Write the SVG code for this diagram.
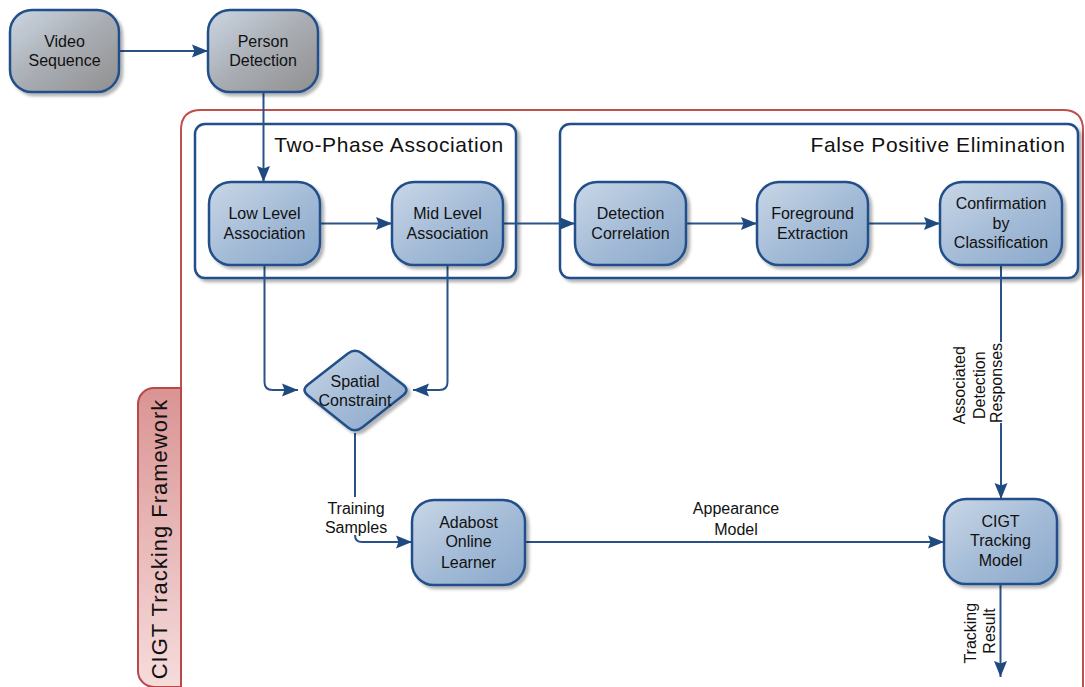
<svg xmlns="http://www.w3.org/2000/svg" width="1085" height="687" viewBox="0 0 1085 687">
  <style>
    .node { stroke: #22508a; stroke-width: 2.5; filter: url(#shadow); }
    .blue { fill: url(#gBlue); }
    .gray { fill: url(#gGray); }
    .box { fill: #ffffff; stroke: #22508a; stroke-width: 2.5; filter: url(#shadow); }
    .txt { font-family: "Liberation Sans", Arial, sans-serif; font-size: 16px; fill: #111; text-anchor: middle; }
    .title { font-family: "Liberation Sans", Arial, sans-serif; font-size: 21px; fill: #111; letter-spacing: 0.6px; }
    .lbl { font-family: "Liberation Sans", Arial, sans-serif; font-size: 16px; fill: #111; text-anchor: middle; }
    .conn { fill: none; stroke: #2a5288; stroke-width: 2; }
    .arrow { marker-end: url(#head); }
  </style>
  <defs>
    <linearGradient id="gBlue" x1="0" y1="0" x2="1" y2="1">
      <stop offset="0" stop-color="#cad7e7"/>
      <stop offset="0.55" stop-color="#a2bad6"/>
      <stop offset="1" stop-color="#8aa8cb"/>
    </linearGradient>
    <linearGradient id="gGray" x1="0" y1="0" x2="1" y2="1">
      <stop offset="0" stop-color="#ccd7e3"/>
      <stop offset="0.5" stop-color="#a9adb3"/>
      <stop offset="1" stop-color="#8f8f8f"/>
    </linearGradient>
    <linearGradient id="gTab" x1="0" y1="0" x2="0" y2="1">
      <stop offset="0" stop-color="#d99493"/>
      <stop offset="1" stop-color="#f6dcdc"/>
    </linearGradient>
    <filter id="shadow" x="-10%" y="-10%" width="125%" height="125%">
      <feDropShadow dx="3" dy="3" stdDeviation="1.6" flood-color="#000" flood-opacity="0.3"/>
    </filter>
    <marker id="head" markerUnits="userSpaceOnUse" markerWidth="17" markerHeight="14" refX="16" refY="6.5" orient="auto" overflow="visible">
      <path d="M0,0 L16,6.5 L0,13 L2.5,6.5 Z" fill="#1f4a80"/>
    </marker>
  </defs>

  <!-- framework frame and side tab -->
  <g id="framework">
    <path d="M181,687 V130 Q181,110 201,110 H1063 Q1083,110 1083,130 V687" fill="none" stroke="#c0504d" stroke-width="2"/>
    <path d="M181,388 H154 A16,16 0 0 0 138,404 V671 A16,16 0 0 0 154,687 H181 Z" fill="url(#gTab)" stroke="#b9484a" stroke-width="2"/>
    <text class="title" transform="translate(167,539) rotate(-90)" text-anchor="middle" style="font-size:22px;letter-spacing:1px">CIGT Tracking Framework</text>
  </g>

  <!-- phase containers -->
  <g id="two-phase">
    <rect class="box" x="195" y="124" width="321" height="154" rx="10"/>
    <text class="title" x="389" y="152" text-anchor="middle">Two-Phase Association</text>
  </g>
  <g id="fp-elimination">
    <rect class="box" x="560" y="124" width="518" height="154" rx="10"/>
    <text class="title" x="938" y="152" text-anchor="middle">False Positive Elimination</text>
  </g>

  <!-- connectors -->
  <g id="connectors">
    <path class="conn arrow" d="M119,51 H208"/>
    <path class="conn arrow" d="M263.5,92 V182"/>
    <path class="conn arrow" d="M320,223.5 H392"/>
    <path class="conn arrow" d="M503,223.5 H575"/>
    <path class="conn arrow" d="M686,223.5 H757"/>
    <path class="conn arrow" d="M868,223.5 H940"/>
    <path class="conn arrow" d="M264.5,265 V382 Q264.5,390 272.5,390 H298"/>
    <path class="conn arrow" d="M447.5,265 V382 Q447.5,390 439.5,390 H413"/>
    <path class="conn arrow" d="M355,433 V497 M355,535 Q355,542 362,542 H412"/>
    <path class="conn arrow" d="M525,542 H944"/>
    <path class="conn arrow" d="M1001,265 V342 M1001,423 V499"/>
    <path class="conn arrow" d="M1000.5,584 V677"/>
    <text class="lbl" x="356" y="514">Training</text>
    <text class="lbl" x="356" y="533">Samples</text>
    <text class="lbl" x="736" y="514">Appearance</text>
    <text class="lbl" x="736" y="535">Model</text>
    <text class="lbl" transform="translate(965,383) rotate(-90)">
      <tspan x="0" y="0">Associated</tspan>
      <tspan x="0" y="19.5">Detection</tspan>
      <tspan x="0" y="37">Responses</tspan>
    </text>
    <text class="lbl" transform="translate(976,631) rotate(-90)">
      <tspan x="0" y="0">Tracking</tspan>
      <tspan x="0" y="19">Result</tspan>
    </text>
  </g>

  <!-- nodes -->
  <g id="video-sequence">
    <rect class="node gray" x="10" y="10" width="109" height="82" rx="22"/>
    <text class="txt" x="64.5" y="47">Video</text>
    <text class="txt" x="64.5" y="66">Sequence</text>
  </g>
  <g id="person-detection">
    <rect class="node gray" x="208" y="10" width="110" height="82" rx="22"/>
    <text class="txt" x="263" y="47">Person</text>
    <text class="txt" x="263" y="66">Detection</text>
  </g>
  <g id="low-level">
    <rect class="node blue" x="209" y="182" width="111" height="83" rx="22"/>
    <text class="txt" x="264.5" y="219">Low Level</text>
    <text class="txt" x="264.5" y="239">Association</text>
  </g>
  <g id="mid-level">
    <rect class="node blue" x="392" y="182" width="111" height="83" rx="22"/>
    <text class="txt" x="447.5" y="219">Mid Level</text>
    <text class="txt" x="447.5" y="239">Association</text>
  </g>
  <g id="detection-correlation">
    <rect class="node blue" x="575" y="182" width="111" height="83" rx="22"/>
    <text class="txt" x="630.5" y="219">Detection</text>
    <text class="txt" x="630.5" y="239">Correlation</text>
  </g>
  <g id="foreground-extraction">
    <rect class="node blue" x="757" y="182" width="111" height="83" rx="22"/>
    <text class="txt" x="812.5" y="219">Foreground</text>
    <text class="txt" x="812.5" y="239">Extraction</text>
  </g>
  <g id="confirmation">
    <rect class="node blue" x="940" y="182" width="122" height="83" rx="22"/>
    <text class="txt" x="1001" y="209">Confirmation</text>
    <text class="txt" x="1001" y="229">by</text>
    <text class="txt" x="1001" y="248">Classification</text>
  </g>
  <g id="spatial-constraint">
    <path class="node blue" d="M347.9,353.5 Q355,348 362.2,353.5 L402.8,384.5 Q410,390 402.9,395.5 L362.1,427.5 Q355,433 348,427.4 L308,395.6 Q301,390 308.1,384.5 Z"/>
    <text class="txt" x="355" y="387">Spatial</text>
    <text class="txt" x="355" y="406">Constraint</text>
  </g>
  <g id="adabost">
    <rect class="node blue" x="412" y="500" width="113" height="85" rx="22"/>
    <text class="txt" x="468.5" y="528">Adabost</text>
    <text class="txt" x="468.5" y="547">Online</text>
    <text class="txt" x="468.5" y="568">Learner</text>
  </g>
  <g id="cigt-model">
    <rect class="node blue" x="944" y="499" width="113" height="85" rx="22"/>
    <text class="txt" x="1000.5" y="527">CIGT</text>
    <text class="txt" x="1000.5" y="546">Tracking</text>
    <text class="txt" x="1000.5" y="566">Model</text>
  </g>
</svg>
